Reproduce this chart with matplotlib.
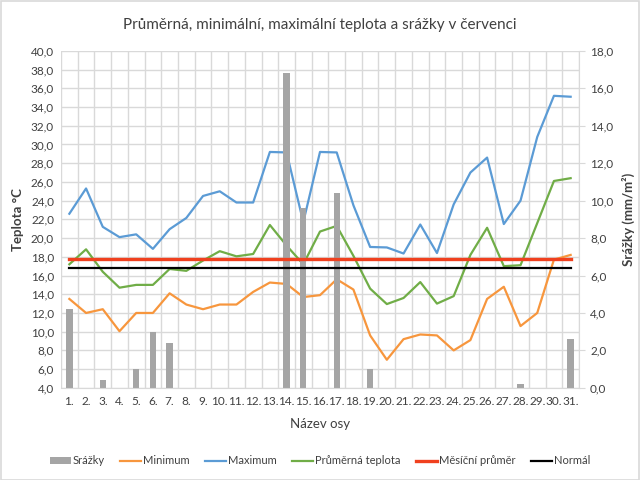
import matplotlib

matplotlib.use("Agg")
import matplotlib.pyplot as plt
import numpy as np
from matplotlib.patches import Rectangle
from matplotlib.ticker import FuncFormatter, MultipleLocator

plt.rcParams["font.family"] = ["Lato", "DejaVu Sans"]

days = [f"{d}." for d in range(1, 32)]

t_max = [22.6, 25.3, 21.2, 20.1, 20.4, 18.85, 20.95, 22.15, 24.5, 25.0,
         23.8, 23.8, 29.2, 29.15, 21.7, 29.2, 29.15, 23.5, 19.05, 19.0,
         18.35, 21.45, 18.4, 23.6, 27.0, 28.6, 21.5, 24.0, 30.8, 35.2, 35.1]
t_avg = [17.2, 18.8, 16.4, 14.7, 15.0, 15.0, 16.7, 16.5, 17.6, 18.6,
         18.05, 18.3, 21.4, 19.2, 17.2, 20.7, 21.3, 18.1, 14.6, 12.95,
         13.6, 15.3, 13.0, 13.8, 18.2, 21.1, 17.0, 17.1, 21.6, 26.1, 26.4]
t_min = [13.5, 12.0, 12.4, 10.05, 12.0, 12.0, 14.1, 12.9, 12.4, 12.9,
         12.9, 14.25, 15.25, 15.1, 13.7, 13.9, 15.6, 14.5, 9.6, 7.0,
         9.2, 9.7, 9.6, 8.0, 9.1, 13.5, 14.8, 10.6, 12.0, 17.7, 18.2]
srazky = [4.2, 0, 0.4, 0, 1.0, 3.0, 2.4, 0, 0, 0,
          0, 0, 0, 16.8, 9.6, 0, 10.4, 0, 1.0, 0,
          0, 0, 0, 0, 0, 0, 0, 0.2, 0, 0, 2.6]
mesicni_prumer = 17.75
normal = 16.85

c_min = "#F7963D"
c_max = "#5B9BD5"
c_avg = "#70AD47"
c_mes = "#F0401E"
c_bar = "#A5A5A5"
c_grid = "#D9D9D9"
c_txt = "#404040"

x = np.arange(len(days))
comma = FuncFormatter(lambda v, _: f"{v:.1f}".replace(".", ","))

fig = plt.figure(figsize=(6.4, 4.8), dpi=100)
ax = fig.add_axes([0.0953, 0.192, 0.8094, 0.702])

ax.plot(x, t_min, color=c_min, lw=1.6, label="Minimum")
ax.plot(x, t_max, color=c_max, lw=1.6, label="Maximum")
ax.plot(x, t_avg, color=c_avg, lw=1.6, label="Průměrná teplota")
ax.set_ylim(4, 40)
ax.set_xlim(-0.5, len(days) - 0.5)
ax.yaxis.set_major_locator(MultipleLocator(2))
ax.yaxis.set_major_formatter(comma)
ax.set_xticks(x)
ax.set_xticklabels(days)
ax.set_xticks(np.arange(-0.5, len(days), 1), minor=True)
ax.grid(True, which="minor", axis="x", color=c_grid, lw=1)
ax.grid(True, which="major", axis="y", color=c_grid, lw=1)
ax.tick_params(axis="x", which="both", length=0, labelsize=8.5, colors=c_txt, pad=6)
ax.tick_params(axis="y", length=0, labelsize=8.5, colors=c_txt, pad=5)
ax.set_ylabel("Teplota °C", fontsize=9.5, fontweight="bold", color=c_txt, labelpad=5)
ax.set_xlabel("Název osy", fontsize=9.5, color=c_txt, labelpad=8)
for s in ax.spines.values():
    s.set_visible(False)

ax2 = ax.twinx()
bars = ax2.bar(x, srazky, width=0.38, color=c_bar, label="Srážky")
ax2.set_ylim(0, 18)
ax2.yaxis.set_major_locator(MultipleLocator(2))
ax2.yaxis.set_major_formatter(comma)
ax2.tick_params(axis="y", length=4, color=c_grid, labelsize=8.5, colors=c_txt, pad=4)
ax2.set_ylabel("Srážky (mm/m²)", fontsize=9.5, fontweight="bold", color=c_txt, labelpad=6)
for name, s in ax2.spines.items():
    s.set_visible(name in ("right", "bottom"))
    s.set_color(c_grid)

# reference lines on top of the bars, on the temperature scale
ax3 = ax.twinx()
ax3.set_ylim(ax.get_ylim())
ax3.axis("off")
ax3.plot([x[0], x[-1]], [mesicni_prumer, mesicni_prumer], color=c_mes, lw=2.4, label="Měsíční průměr")
ax3.plot([x[0], x[-1]], [normal, normal], color="black", lw=1.6, label="Normál")

fig.suptitle("Průměrná, minimální, maximální teplota a srážky v červenci",
             y=0.962, fontsize=11, color=c_txt)

handles = [bars] + ax.get_lines() + ax3.get_lines()
labels = [h.get_label() for h in handles]
fig.legend(handles, labels, loc="center", bbox_to_anchor=(0.5, 0.04), ncol=6,
           frameon=False, fontsize=8, handlelength=1.9, handleheight=0.5,
           columnspacing=1.4, handletextpad=0.15, labelcolor=c_txt)

fig.add_artist(Rectangle((0.001, 0.001), 0.997, 0.997, transform=fig.transFigure,
                         fill=False, edgecolor=c_grid, lw=1.2))

fig.savefig("out.png", dpi=100)
